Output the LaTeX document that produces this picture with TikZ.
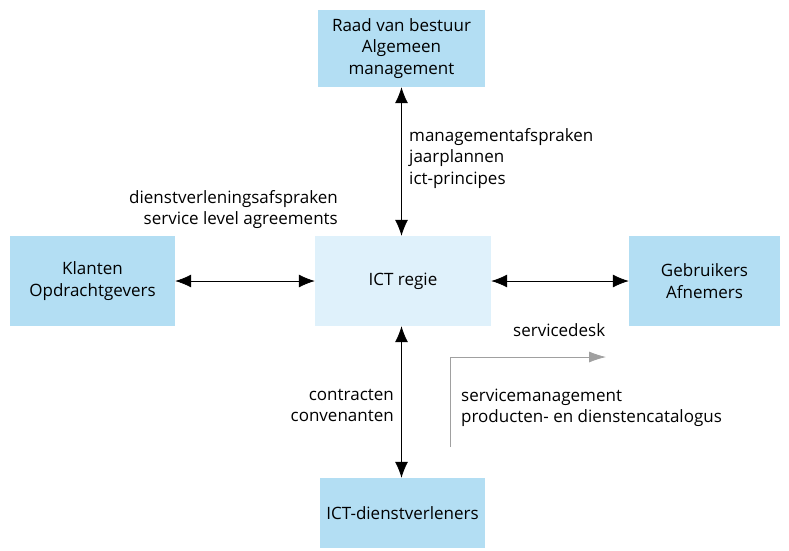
\documentclass[tikz,border=0pt]{standalone}
\usepackage{fontspec}
\setmainfont{Open Sans}
\usetikzlibrary{arrows.meta,positioning}
\definecolor{boxblue}{HTML}{B3DEF3}
\definecolor{regieblue}{HTML}{DFF1FB}
\definecolor{deskgray}{HTML}{A0A0A0}
\tikzset{
  partij/.style={fill=boxblue,minimum width=#1,align=center,inner sep=0pt,
    font=\fontsize{17}{21.5}\selectfont},
  partij/.default=166,
  tekst/.style={font=\fontsize{17}{21.5}\selectfont,inner sep=0pt},
  afspraak/.style={{Latex[length=16pt,width=13pt]}-{Latex[length=16pt,width=13pt]},thick}
}
\begin{document}
\begin{tikzpicture}[x=1pt,y=-1pt]
  \useasboundingbox (0,0) rectangle (789,550);
  % parties
  \node[partij=167,minimum height=77] (raad) at (401.5,48.5)
    {Raad van bestuur\\Algemeen\\management};
  \node[partij=165,minimum height=90] (klanten) at (92.5,281)
    {Klanten\\Opdrachtgevers};
  \node[partij=176,minimum height=90,fill=regieblue] (regie) at (403,281)
    {ICT regie};
  \node[partij=151,minimum height=90] (gebruikers) at (704.5,281)
    {Gebruikers\\Afnemers};
  \node[partij=165,minimum height=70] (leveranciers) at (402.5,513)
    {ICT-dienstverleners};
  % connectors
  \draw[afspraak] (raad.south) -- (raad.south |- regie.north);
  \draw[afspraak] (klanten.east) -- (regie.west);
  \draw[afspraak] (regie.east) -- (gebruikers.west);
  \draw[afspraak] (leveranciers.north -| raad.south) -- (regie.south -| raad.south);
  % labels (base = last line)
  \node[tekst,align=left,anchor=base west] (boven) at (409,184)
    {managementafspraken\\jaarplannen\\ict-principes};
  \node[tekst,align=right,anchor=base east] (links) at (338,224.5)
    {dienstverleningsafspraken\\service level agreements};
  \node[tekst,align=right,anchor=base east] (onder) at (394,421.5)
    {contracten\\convenanten};
  \node[tekst,anchor=base west] (desk) at (513,336) {servicedesk};
  \node[tekst,align=left,anchor=base west] (beheer) at (461,422.5)
    {servicemanagement\\producten- en dienstencatalogus};
  % servicedesk arrow
  \coordinate (deskstart) at (450,447);
  \coordinate (deskhoek) at (450,357);
  \coordinate (deskeind) at (606,357);
  \draw[deskgray,thick,-{Latex[length=17pt,width=11pt]}]
    (deskstart) -- (deskhoek) -- (deskeind);
\end{tikzpicture}
\end{document}
